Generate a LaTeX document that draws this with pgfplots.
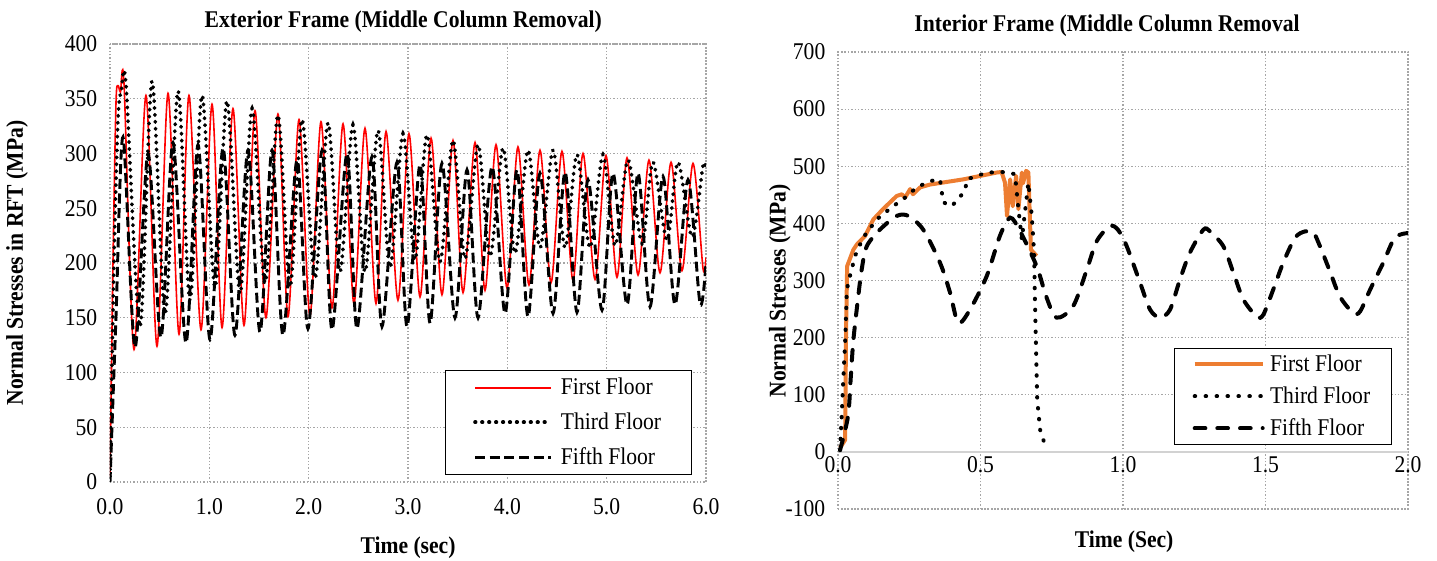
\documentclass[border=0pt]{standalone}
\usepackage{fontspec}
\setmainfont{Liberation Serif}[FakeStretch=0.9]
\usepackage{pgfplots}
\pgfplotsset{compat=1.18}
\definecolor{orng}{HTML}{ED7D31}
\definecolor{gridc}{HTML}{A6A6A6}
\newcommand\fs{\fontsize{18}{21}\selectfont}
\pgfplotsset{
  chartbase/.style={
    scale only axis,
    axis line style={gridc, line width=0.9pt, dash pattern=on 0.9pt off 1.6pt},
    grid=major,
    major grid style={gridc, line width=0.9pt, dash pattern=on 0.9pt off 1.6pt},
    major tick length=0pt,
    tick label style={font=\fs},
    label style={font=\fs\bfseries},
    title style={font=\fs\bfseries},
    /pgf/number format/assume math mode=true,
    legend style={font=\fs, draw=black, line width=0.75pt, fill=white},
    legend cell align=left,
  }
}
\begin{document}
\begin{tikzpicture}
\useasboundingbox (0,0) rectangle (1077.75pt,-420pt);
% ---------------- left: exterior frame
\begin{axis}[chartbase,
  at={(82.5pt,-361.5pt)}, anchor=south west,
  width=447pt, height=328.5pt,
  xmin=0, xmax=6, ymin=0, ymax=400,
  xtick={0,1,2,3,4,5,6}, ytick={0,50,...,400},
  x tick label style={/pgf/number format/.cd, fixed, fixed zerofill, precision=1, /tikz/.cd, yshift=-9pt},
  y tick label style={xshift=-6pt},
  title={Exterior Frame (Middle Column Removal)},
  title style={at={(axis description cs:0.492,1.032)}, anchor=center},
  xlabel={Time (sec)},
  xlabel style={at={(axis description cs:0.5,-0.151)}, anchor=center},
  ylabel={Normal Stresses in RFT (MPa)},
  ylabel style={at={(axis description cs:-0.156,0.5)}, anchor=center},
  legend style={at={(axis description cs:0.977,0.016)}, anchor=south east,
    inner xsep=21pt, inner ysep=4pt, /tikz/row sep=8pt},
  legend image code/.code={\draw[#1] (0pt,0pt) -- (57pt,0pt);},
]
\addplot[red, line width=1.2pt, smooth,
  legend image code/.code={\draw[red, line width=1.4pt] (0pt,0pt) -- (57pt,0pt);}] coordinates {
(0,5)(0.030,200)(0.060,345)(0.080,362)(0.105,356)(0.141,364)(0.242,121)(0.362,353)(0.473,124)
(0.584,355)(0.695,135)(0.795,353)(0.916,139)(1.027,345)(1.128,141)(1.238,341)(1.349,143)
(1.460,339)(1.570,150)(1.691,336)(1.792,151)(1.903,331)(2.013,152)(2.124,329)(2.235,159)
(2.346,327)(2.456,163)(2.567,323)(2.678,163)(2.779,320)(2.899,166)(3.010,318)(3.121,169)
(3.232,314)(3.342,171)(3.453,312)(3.554,173)(3.675,310)(3.775,175)(3.886,308)(3.997,177)
(4.107,306)(4.218,180)(4.329,303)(4.440,182)(4.550,302)(4.661,184)(4.762,300)(4.883,185)
(4.993,298)(5.104,187)(5.205,296)(5.316,189)(5.426,294)(5.537,191)(5.648,292)(5.758,193)
(5.869,291)(5.970,195)(6.000,205)};
\addlegendentry{\hspace{4pt}First Floor}
\addplot[black, line width=2.8pt, line cap=round, dash pattern=on 0.4pt off 4.8pt, smooth] coordinates {
(0,5)(0.040,200)(0.080,330)(0.115,358)(0.161,363)(0.302,142)(0.423,366)(0.554,154)(0.685,357)
(0.805,166)(0.926,353)(1.057,178)(1.178,348)(1.309,172)(1.430,341)(1.561,182)(1.691,335)
(1.812,178)(1.933,331)(2.064,186)(2.195,328)(2.315,192)(2.446,326)(2.567,192)(2.698,321)
(2.819,196)(2.950,318)(3.070,203)(3.191,317)(3.322,201)(3.453,312)(3.574,204)(3.705,308)
(3.826,206)(3.957,305)(4.077,209)(4.208,303)(4.329,214)(4.460,303)(4.581,214)(4.701,299)
(4.832,214)(4.963,299)(5.084,216)(5.215,294)(5.356,218)(5.466,292)(5.607,221)(5.718,292)
(5.859,224)(5.970,289)(6.000,285)};
\addlegendentry{\hspace{4pt}Third Floor}
\addplot[black, line width=2.2pt, dash pattern=on 7.5pt off 3.5pt, smooth] coordinates {
(0,0)(0.060,150)(0.131,315)(0.252,123)(0.383,300)(0.513,132)(0.634,310)(0.765,127)
(0.886,308)(1.007,130)(1.138,305)(1.258,134)(1.389,303)(1.510,137)(1.631,303)(1.741,134)
(1.883,294)(1.993,140)(2.135,303)(2.235,139)(2.386,300)(2.486,140)(2.637,297)(2.738,142)
(2.889,292)(2.990,142)(3.121,290)(3.222,145)(3.342,291)(3.473,150)(3.594,285)(3.705,150)
(3.846,288)(3.977,154)(4.097,285)(4.208,151)(4.329,282)(4.460,154)(4.581,283)(4.701,155)
(4.812,276)(4.953,157)(5.064,282)(5.205,162)(5.316,282)(5.436,160)(5.567,279)(5.688,162)
(5.819,276)(5.940,163)(6.000,200)};
\addlegendentry{\hspace{4pt}Fifth Floor}
\end{axis}
% ---------------- right: interior frame
\begin{axis}[chartbase,
  at={(628.5pt,-381.75pt)}, anchor=south west,
  width=427.5pt, height=342.75pt,
  xmin=0, xmax=2, ymin=-100, ymax=700,
  xtick={0,0.5,1,1.5,2}, ytick={-100,0,...,700},
  x tick label style={/pgf/number format/.cd, fixed, fixed zerofill, precision=1, /tikz/.cd, yshift=42.75pt},
  y tick label style={xshift=-6pt},
  extra y ticks={0}, extra y tick labels={},
  extra y tick style={grid=major, major grid style={solid, gray!35, line width=1.5pt}},
  title={Interior Frame (Middle Column Removal},
  title style={at={(axis description cs:0.472,1.041)}, anchor=center},
  xlabel={Time (Sec)},
  xlabel style={at={(axis description cs:0.502,-0.072)}, anchor=center},
  ylabel={Normal Stresses (MPa)},
  ylabel style={at={(axis description cs:-0.102,0.477)}, anchor=center},
  legend style={at={(axis description cs:0.972,0.140)}, anchor=south east,
    inner xsep=14pt, inner ysep=3pt, /tikz/row sep=6pt},
  legend image code/.code={\draw[#1] (0pt,0pt) -- (51pt,0pt);},
]
\addplot[orng, line width=3pt, line join=round] coordinates {
(0.007,7)(0.025,21)(0.028,200)(0.032,325)(0.054,354)(0.066,363)(0.095,378)(0.124,407)
(0.158,425)(0.206,448)(0.224,451)(0.235,445)(0.253,460)(0.263,451)(0.288,463)(0.323,468)
(0.439,477)(0.557,489)(0.574,490)(0.586,471)(0.593,413)(0.604,477)(0.613,430)(0.625,483)
(0.633,425)(0.645,489)(0.649,470)(0.660,492)(0.668,489)(0.671,442)(0.677,354)(0.697,343)};
\addlegendentry{\hspace{2pt}First Floor}
\addplot[black, line width=3pt, line cap=round, dash pattern=on 0.4pt off 7.8pt] coordinates {
(0.007,3)(0.013,62)(0.018,121)(0.025,191)(0.031,284)(0.042,308)(0.060,343)(0.088,375)
(0.136,407)(0.193,430)(0.228,442)(0.276,463)(0.323,474)(0.358,477)(0.369,437)(0.399,430)
(0.446,457)(0.452,477)(0.522,489)(0.592,490)(0.621,486)(0.632,430)(0.645,372)(0.668,471)
(0.680,413)(0.688,349)(0.691,267)(0.695,179)(0.699,91)(0.709,39)(0.732,3)};
\addlegendentry{\hspace{2pt}Third Floor}
\addplot[black, line width=3pt, line cap=round, dash pattern=on 8pt off 9pt, smooth] coordinates {
(0.007,3)(0.035,62)(0.045,132)(0.054,196)(0.071,272)(0.083,319)(0.101,360)(0.147,389)
(0.206,413)(0.247,413)(0.299,389)(0.358,331)(0.393,279)(0.422,226)(0.463,249)(0.522,308)
(0.568,378)(0.604,410)(0.639,386)(0.697,325)(0.732,270)(0.767,235)(0.825,255)(0.873,319)
(0.908,369)(0.954,395)(0.982,389)(1.013,360)(1.060,296)(1.095,249)(1.130,235)(1.165,249)
(1.200,302)(1.235,349)(1.282,389)(1.305,386)(1.352,360)(1.387,314)(1.422,267)(1.469,237)
(1.492,240)(1.527,284)(1.562,331)(1.604,375)(1.639,386)(1.668,384)(1.691,360)(1.726,316)
(1.761,272)(1.808,243)(1.832,246)(1.867,284)(1.913,331)(1.954,375)(2.000,383)};
\addlegendentry{\hspace{2pt}Fifth Floor}
\end{axis}
\end{tikzpicture}
\end{document}
